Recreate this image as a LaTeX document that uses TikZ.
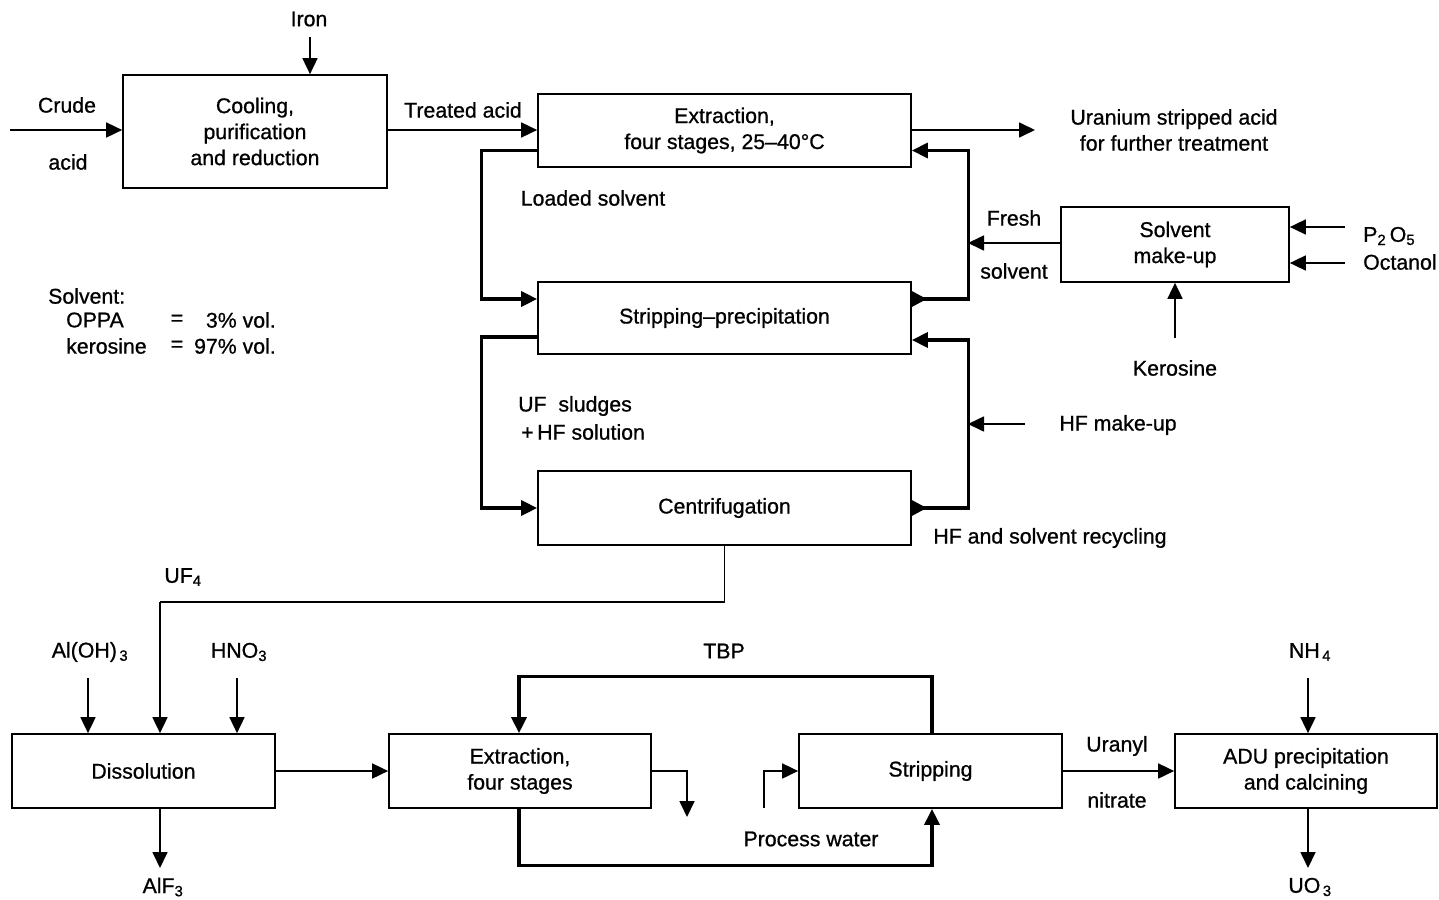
\documentclass[tikz,border=0pt]{standalone}
\usepackage{fontspec}
\setmainfont[FakeBold=0.8]{Liberation Sans}
\usetikzlibrary{arrows.meta}
\begin{document}
\begin{tikzpicture}[x=1pt,y=-1pt,
  every node/.style={font=\fontsize{21.3}{26}\selectfont, inner sep=0pt},
  box/.style={draw, line width=1.7pt, align=center},
  lbl/.style={align=center},
  thin/.style={line width=1.7pt, -{Triangle[length=16pt,width=15pt]}},
  loop/.style={line width=3.2pt, -{Triangle[length=16pt,width=15pt]}},
  loopb/.style={line width=3.2pt, {Triangle[reversed,length=15pt,width=15pt]}-{Triangle[length=16pt,width=15pt]}},
  plain/.style={line width=1.7pt}]
\useasboundingbox (0,0) rectangle (1439,899);
\fill[white] (0,0) rectangle (1439,899);

% boxes
\node[box, minimum width=264pt, minimum height=113pt] (cool) at (255,131.5) {Cooling,\\purification\\and reduction};
\node[box, minimum width=373pt, minimum height=73pt] (ext1) at (724.5,130.5) {Extraction,\\four stages, 25–40°C};
\node[box, minimum width=373pt, minimum height=72pt] (strip1) at (724.5,318) {Stripping–precipitation};
\node[box, minimum width=373pt, minimum height=74pt] (cent) at (724.5,508) {Centrifugation};
\node[box, minimum width=228pt, minimum height=75pt] (smu) at (1175,244.5) {Solvent\\make-up};
\node[box, minimum width=263pt, minimum height=74pt] (diss) at (143.5,771) {Dissolution};
\node[box, minimum width=262pt, minimum height=74pt] (ext2) at (520,771) {Extraction,\\four stages};
\node[box, minimum width=263pt, minimum height=74pt] (strip2) at (930.5,771) {Stripping};
\node[box, minimum width=262pt, minimum height=74pt] (adu) at (1306,771) {ADU precipitation\\and calcining};

% free ends
\coordinate (crudein) at (10,130);
\coordinate (ironin) at (310,37);
\coordinate (uout) at (1035,130);
\coordinate (fsin) at (968,243);
\coordinate (p2in) at (1345,227);
\coordinate (ocin) at (1345,263);
\coordinate (kein) at (1175,338);
\coordinate (hfin) at (1025,424);
\coordinate (hfto) at (968,424);
\coordinate (ufc) at (160,602);
\coordinate (alin) at (88,678);
\coordinate (hnin) at (237,678);
\coordinate (alfout) at (160,868);
\coordinate (raff) at (687,817);
\coordinate (pwin) at (764,808);
\coordinate (nhin) at (1308,678);
\coordinate (uo3out) at (1308,868);

% labels
\node (liron) at (309,19) {Iron};
\node (lcrude) at (67,105) {Crude};
\node (lacid) at (68,162) {acid};
\node (ltreat) at (463,110) {Treated acid};
\node[lbl] (luran) at (1174,130) {Uranium stripped acid\\for further treatment};
\node (lload) at (593,198) {Loaded solvent};
\node (lfresh) at (1014,218) {Fresh};
\node (lsolv) at (1014,271) {solvent};
\node[anchor=west] (lp2o5) at (1363,236) {P\textsubscript{2}\,O\textsubscript{5}};
\node[anchor=west] (loct) at (1363,262) {Octanol};
\node (lker) at (1175,368) {Kerosine};
\node[anchor=west] (lsv) at (48,296) {Solvent:};
\node[anchor=west] (loppa) at (66,320) {OPPA};
\node (leq1) at (177,320) {=};
\node[anchor=east] (l3) at (276,320) {3\% vol.};
\node[anchor=west] (lkero) at (66,346) {kerosine};
\node (leq2) at (177,346) {=};
\node[anchor=east] (l97) at (276,346) {97\% vol.};
\node[anchor=west] (lufs) at (518,406) {UF\ \ sludges};
\node[anchor=west] (lhfs) at (521,432) {+\,HF solution};
\node (lhfm) at (1118,425) {HF make-up};
\node (lhfr) at (1050,538) {HF and solvent recycling};
\node (luf4) at (183,577) {UF\textsubscript{4}};
\node (lal) at (90,652) {Al(OH)\textsubscript{\,3}};
\node (lhno) at (239,652) {HNO\textsubscript{3}};
\node (lalf) at (163,887) {AlF\textsubscript{3}};
\node (ltbp) at (724,651) {TBP};
\node (lpw) at (811,839) {Process water};
\node (luranyl) at (1117,746) {Uranyl};
\node (lnit) at (1117,800) {nitrate};
\node (lnh) at (1310,652) {NH\textsubscript{\,4}};
\node (luo) at (1310,887) {UO\textsubscript{\,3}};

% thin connectors
\draw[thin] (crudein) -- (crudein -| cool.west);
\draw[thin] (ironin) -- (ironin |- cool.north);
\draw[thin] (cool.east |- 0,130) -- (ext1.west |- 0,130);
\draw[thin] (ext1.east |- uout) -- (uout);
\draw[thin] (smu.west |- fsin) -- (fsin);
\draw[thin] (p2in) -- (p2in -| smu.east);
\draw[thin] (ocin) -- (ocin -| smu.east);
\draw[thin] (kein) -- (smu.south);
\draw[thin] (hfin) -- (hfto);
\draw[plain] (cent.south) |- (ufc);
\draw[thin] (ufc) -- (ufc |- diss.north);
\draw[thin] (alin) -- (alin |- diss.north);
\draw[thin] (hnin) -- (hnin |- diss.north);
\draw[thin] (alfout |- diss.south) -- (alfout);
\draw[thin] (diss.east) -- (ext2.west);
\draw[thin] (ext2.east) -| (raff);
\draw[thin] (pwin) |- (strip2.west);
\draw[thin] (strip2.east) -- (adu.west);
\draw[thin] (nhin) -- (nhin |- adu.north);
\draw[thin] (uo3out |- adu.south) -- (uo3out);

% thick loops
\draw[loop] ([yshift=-20pt]ext1.west) -- ++(-56,0) |- ([yshift=19pt]strip1.west);
\draw[loopb] ([yshift=19pt]strip1.east) -- ++(57,0) |- ([yshift=-20pt]ext1.east);
\draw[loop] ([yshift=-19pt]strip1.west) -- ++(-56,0) |- (cent.west);
\draw[loopb] (cent.east) -- ++(57,0) |- ([yshift=-22pt]strip1.east);
\draw[loop] ([xshift=1.5pt]strip2.north) -- ++(0,-57) -| ([xshift=-1pt]ext2.north);
\draw[loop] ([xshift=-1pt]ext2.south) -- ++(0,57) -| ([xshift=1.5pt]strip2.south);
\end{tikzpicture}
\end{document}
